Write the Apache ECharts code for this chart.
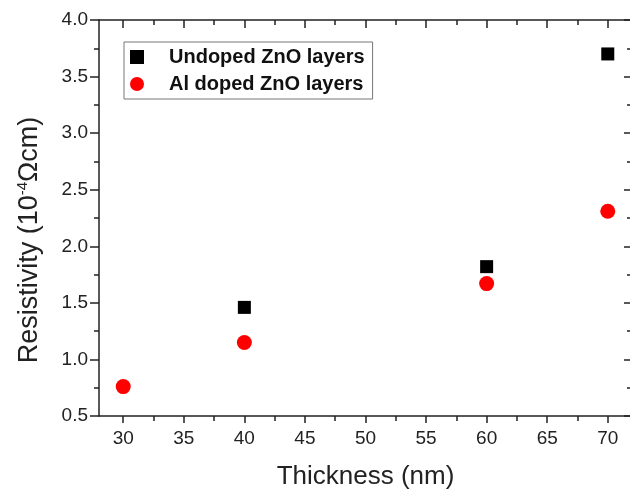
<!DOCTYPE html>
<html>
<head>
<meta charset="utf-8">
<script src="https://cdn.jsdelivr.net/npm/echarts@6/dist/echarts.min.js"></script>
<style>
  html, body { margin: 0; padding: 0; background: #fff; }
  #main { width: 630px; height: 495px; }
</style>
</head>
<body>
<div id="main"></div>
<script>
// values
var undopedThickness = [40, 60, 70];
var undopedResistivity = [1.46, 1.82, 3.70];
var alThickness = [30, 40, 60, 70];
var alResistivity = [0.76, 1.15, 1.67, 2.31];

var xTicks = [30, 35, 40, 45, 50, 55, 60, 65, 70];
var xMinorTicks = [32.5, 37.5, 42.5, 47.5, 52.5, 57.5, 62.5, 67.5];
var yTicks = [0.5, 1.0, 1.5, 2.0, 2.5, 3.0, 3.5, 4.0];
var yMinorTicks = [0.75, 1.25, 1.75, 2.25, 2.75, 3.25, 3.75];

var FONT = "'Liberation Sans', Arial, sans-serif";
var AXIS_COLOR = '#222';

function toPairs(xs, ys) {
  return xs.map(function (x, i) { return [x, ys[i]]; });
}

// one axis = one set of ticks; several are stacked on each side
function makeAxis(kind, position, ticks, tickLen, inside, withLine, withLabels) {
  var ax = {
    type: 'value',
    position: position,
    min: kind === 'x' ? 28 : 0.5,
    max: kind === 'x' ? 72 : 4.0,
    splitLine: { show: false },
    axisLine: { show: withLine, onZero: false, lineStyle: { color: AXIS_COLOR, width: 1.5 } },
    axisTick: {
      show: true, inside: inside, length: tickLen, customValues: ticks,
      lineStyle: { color: AXIS_COLOR, width: 1.5 }
    },
    axisLabel: { show: false }
  };
  if (withLabels) {
    ax.axisLabel = {
      show: true, customValues: ticks, color: '#222', fontFamily: FONT, fontSize: 19,
      margin: kind === 'x' ? 13 : 11,
      formatter: function (v) { return kind === 'x' ? String(v) : v.toFixed(1); }
    };
  }
  return ax;
}

var chart = echarts.init(document.getElementById('main'));

var option = {
  animation: false,
  backgroundColor: '#fff',
  // right edge of the frame sits just past the picture, as in the original
  grid: { left: 99, top: 20, width: 533, height: 396, outerBoundsMode: 'none', containLabel: false },
  xAxis: [
    Object.assign(makeAxis('x', 'bottom', xTicks, 7, false, true, true), {
      name: 'Thickness (nm)', nameLocation: 'middle', nameGap: 48,
      nameTextStyle: { fontFamily: FONT, fontSize: 26, color: '#222' }
    }),
    makeAxis('x', 'bottom', xMinorTicks, 5, false, false, false),
    makeAxis('x', 'top', xTicks, 8, true, true, false),
    makeAxis('x', 'top', xMinorTicks, 5, true, false, false)
  ],
  yAxis: [
    makeAxis('y', 'left', yTicks, 9, false, true, true),
    makeAxis('y', 'left', yMinorTicks, 5, false, false, false),
    makeAxis('y', 'right', yTicks, 8, true, false, false),
    makeAxis('y', 'right', yMinorTicks, 5, true, false, false)
  ],
  legend: {
    orient: 'vertical',
    left: 124,
    top: 42,
    padding: [5, 8, 5, 6],
    itemWidth: 54,
    itemHeight: 14,
    itemGap: 7,
    borderColor: '#777',
    borderWidth: 1,
    backgroundColor: '#fff',
    textStyle: { fontFamily: FONT, fontWeight: 'bold', fontSize: 20, lineHeight: 20, color: '#111' },
    data: [
      { name: 'Undoped ZnO layers', icon: 'path://M0,0H10V10H0Z' },
      { name: 'Al doped ZnO layers', icon: 'circle' }
    ]
  },
  graphic: [{
    type: 'text',
    x: 30,
    y: 240,
    rotation: Math.PI / 2,
    style: {
      text: '{a|Resistivity (10}{s|-4}{a|Ωcm)}',
      align: 'center',
      verticalAlign: 'middle',
      rich: {
        a: { fontFamily: FONT, fontSize: 27, lineHeight: 30, fill: '#222' },
        s: { fontFamily: FONT, fontSize: 15, verticalAlign: 'top', fill: '#222' }
      }
    }
  }],
  series: [
    {
      name: 'Undoped ZnO layers',
      type: 'scatter',
      symbol: 'rect',
      symbolSize: 13,
      itemStyle: { color: '#000', opacity: 1 },
      data: toPairs(undopedThickness, undopedResistivity)
    },
    {
      name: 'Al doped ZnO layers',
      type: 'scatter',
      symbol: 'circle',
      symbolSize: 15,
      itemStyle: { color: '#ff0000', opacity: 1 },
      data: toPairs(alThickness, alResistivity)
    }
  ]
};

chart.setOption(option);
</script>
</body>
</html>
